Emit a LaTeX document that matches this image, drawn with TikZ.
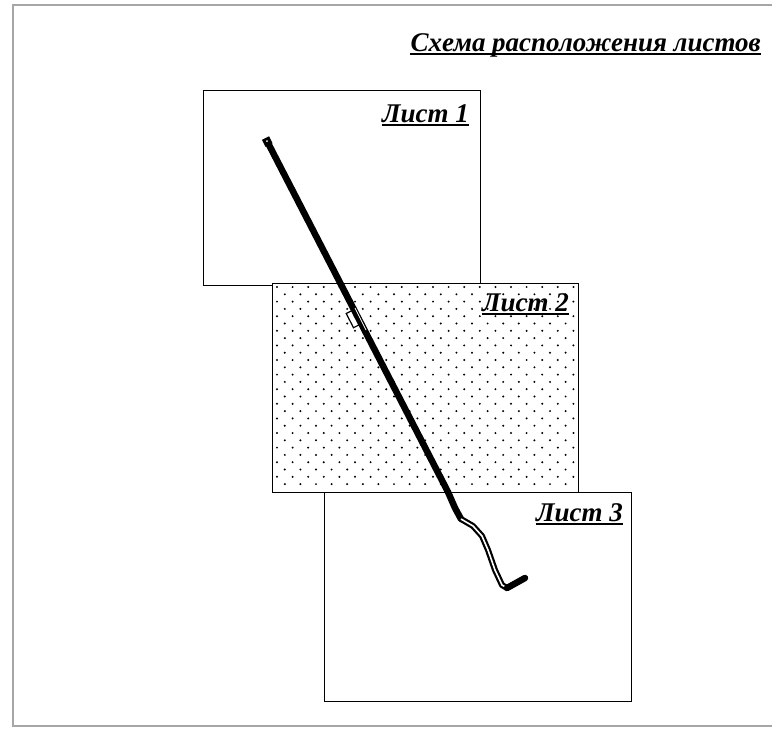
\documentclass[tikz,border=0pt]{standalone}
\usepackage{fontspec}
\setmainfont{Liberation Serif}
\usetikzlibrary{calc}
\tikzset{
  sheet/.style={draw,line width=0.9pt,fill=white,rectangle,inner sep=0pt,outer sep=0pt,anchor=north west},
  sheetlabel/.style={inner sep=0pt,anchor=base east,font=\fontsize{27}{30}\selectfont\bfseries\itshape},
  uline/.style={line width=1.9pt},
  track/.style={line width=6.5pt,line cap=round,line join=round},
  twin/.style={line width=2.2pt,double,double distance=1.6pt,line join=round},
}

\begin{document}
\begin{tikzpicture}[x=1pt,y=-1pt]
\useasboundingbox (0,0) rectangle (772,731);
\draw[gray!70,line width=1.4pt] (780,5) -- (13,5) -- (13,726) -- (780,726);

\node[sheet,minimum width=277pt,minimum height=195pt] (sheet1) at (203,90) {};
\node[sheet,minimum width=306pt,minimum height=209pt] (sheet2) at (272,283) {};
\foreach \r in {0,...,27}{
  \foreach \c in {0,...,19}{
    \pgfmathsetmacro\dx{277+15.6*\c+7.8*mod(\r,2)}
    \ifdim\dx pt<576pt \fill (\dx,287+7.3*\r) circle (1.1pt); \fi
  }
}
\node[sheet,minimum width=307pt,minimum height=209pt] (sheet3) at (324,492) {};

\node[sheetlabel] (title) at (761,51) {Схема расположения листов};
\node[sheetlabel] (lbl1) at (469,122) {Лист 1};
\node[sheetlabel] (lbl2) at (569,311) {Лист 2};
\node[sheetlabel] (lbl3) at (623,521) {Лист 3};
\foreach \n in {title,lbl1,lbl2,lbl3}
  \draw[uline] ([yshift=-3pt]\n.base west) -- ([yshift=-3pt]\n.base east);

\draw[track] (267,141) -- (448,492) -- (455,508) -- (461,519);
\draw[white,line width=0.8pt] (355,308) -- (366,330);
\draw[line width=1.2pt] (353.5,327.7) -- (359.8,324.5) -- (352.5,310.3) -- (346.2,313.5) -- cycle;
\draw[twin] (461,519) -- (473,526) -- (482,536) -- (488,550) -- (495,570) -- (502,585) -- (507,588);
\draw[track] (507,588) -- (525,578);
\draw[line width=8pt] (265.5,138) -- (269,145);
\fill[white] (267,141) circle (1pt);
\end{tikzpicture}
\end{document}
